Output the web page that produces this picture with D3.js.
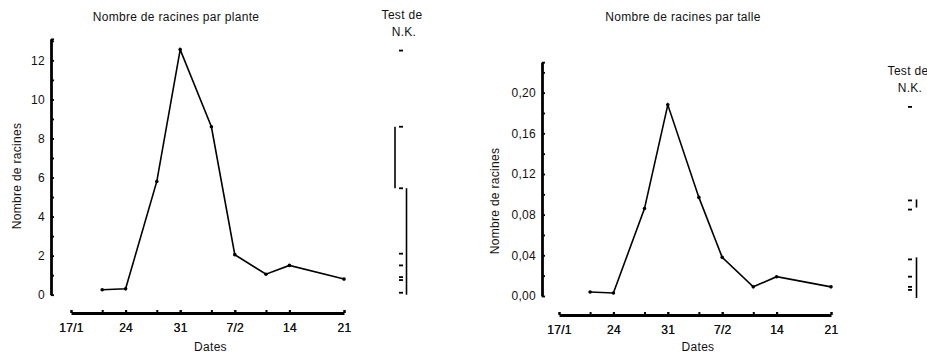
<!DOCTYPE html>
<html>
<head>
<meta charset="utf-8">
<script src="https://cdn.jsdelivr.net/npm/d3@7"></script>
<style>
body{margin:0;background:#fff;}
svg{display:block;}
text{font-family:"Liberation Sans",Arial,sans-serif;fill:#111;font-size:12px;letter-spacing:0.3px;}
</style>
</head>
<body>
<div id="plot"></div>
<script>
// sampling dates (day/month)
var dates = ['21/1','24/1','28/1','31/1','4/2','7/2','11/2','14/2','21/2'];
var parPlante = [0.25,0.3,5.8,12.55,8.6,2.05,1.05,1.5,0.8];
var parTalle = [0.004,0.003,0.086,0.188,0.097,0.038,0.009,0.019,0.009];

var tickDates = ['17/1','24/1','31/1','7/2','14/2','21/2'];
var tickLabels = ['17/1','24','31','7/2','14','21'];

// Test de N.K. marks
var nkPlante = [12.5,8.6,5.45,2.1,1.5,0.9,0.75,0.1];
var nkPlanteGroups = [[8.6,5.45],[5.45,0]];
var nkTalle = [0.186,0.094,0.085,0.036,0.019,0.009,0.006];
var nkTalleGroups = [[0.095,0.087],[0.038,-0.002]];

var yTicksPlante = [0,1,2,3,4,5,6,7,8,9,10,11,12,13];
var yLabelsPlante = [0,2,4,6,8,10,12];
var yTicksTalle = [0,0.02,0.04,0.06,0.08,0.10,0.12,0.14,0.16,0.18,0.20,0.22];
var yLabelsTalle = [0,0.04,0.08,0.12,0.16,0.20];

var W = 927, H = 356;
var parseD = function(s){ var p = s.split('/'); return new Date(1980, +p[1]-1, +p[0]); };
var fr = d3.formatLocale({decimal:',',thousands:' ',grouping:[3],currency:['','']});

var svg = d3.select('#plot').append('svg')
    .attr('width',W)
    .attr('height',H);

function drawPanel(cfg){
    var g = svg.append('g');

    var x = d3.scaleTime()
        .domain([parseD('17/1'),parseD('21/2')])
        .range([cfg.x0,cfg.x1]);
    var y = d3.scaleLinear()
        .domain([0,cfg.yMax])
        .range([cfg.y0,cfg.y0 - cfg.yMax*cfg.pxPerUnit]);

    //y axis
    var yAx = d3.axisLeft(y)
        .tickValues(cfg.yTicks.concat([cfg.yMax]))
        .tickSizeInner(-3)
        .tickSizeOuter(0)
        .tickPadding(6)
        .tickFormat(function(d){
            return cfg.yLabels.some(function(v){return Math.abs(v-d)<1e-9}) ? cfg.fmt(d) : '';
        });
    var ya = g.append('g')
        .attr('transform','translate('+cfg.yAxisX+',0)')
        .call(yAx);
    ya.select('.domain').style('stroke','#000').style('stroke-width',2.8);
    ya.selectAll('.tick line').style('stroke','#000').style('stroke-width',1.8);
    ya.selectAll('.tick text').style('font-size','12px').attr('fill','#111');

    //x axis
    var ticks = [parseD('17/1')].concat(dates.map(parseD));
    var xAx = d3.axisBottom(x)
        .tickValues(ticks.concat(tickDates.map(parseD)))
        .tickSizeInner(-3)
        .tickSizeOuter(0)
        .tickPadding(10)
        .tickFormat(function(d){
            var i = tickDates.map(function(s){return +parseD(s)}).indexOf(+d);
            return i<0 ? '' : tickLabels[i];
        });
    var xa = g.append('g')
        .attr('transform','translate(0,'+cfg.xAxisY+')')
        .call(xAx);
    xa.select('.domain').style('stroke','#000').style('stroke-width',2.8);
    xa.selectAll('.tick line').style('stroke','#000').style('stroke-width',2);
    xa.selectAll('.tick text').style('font-size','12px').attr('fill','#111');

    //series
    var pts = dates.map(function(d,i){return {date:parseD(d),v:cfg.values[i]}});
    var line = d3.line()
        .x(function(d){return x(d.date)})
        .y(function(d){return y(d.v)});
    g.append('path')
        .datum(pts)
        .attr('d',line)
        .style('fill','none')
        .style('stroke','#000')
        .style('stroke-width',1.6);
    g.selectAll('.pt')
        .data(pts)
        .enter()
        .append('circle')
        .attr('class','pt')
        .attr('cx',function(d){return x(d.date)})
        .attr('cy',function(d){return y(d.v)})
        .attr('r',1.8)
        .style('fill','#000');

    //titles
    g.append('text')
        .attr('x',cfg.titleX).attr('y',21)
        .attr('text-anchor','middle')
        .text(cfg.title);
    g.append('text')
        .attr('x',(cfg.x0+cfg.x1)/2 + 3).attr('y',351)
        .attr('text-anchor','middle')
        .text('Dates');
    g.append('text')
        .attr('transform','translate('+cfg.yTitleX+','+cfg.yTitleY+') rotate(-90)')
        .attr('text-anchor','middle')
        .attr('dy','0.35em')
        .text('Nombre de racines');

    //Test de N.K.
    g.append('text')
        .attr('x',cfg.nkTextX).attr('y',cfg.nkTextY)
        .attr('text-anchor','middle')
        .text('Test de');
    g.append('text')
        .attr('x',cfg.nkTextX+2).attr('y',cfg.nkTextY+17)
        .attr('text-anchor','middle')
        .text('N.K.');
    g.selectAll('.nk')
        .data(cfg.nk)
        .enter()
        .append('line')
        .attr('class','nk')
        .attr('x1',cfg.nkX-2).attr('x2',cfg.nkX+2)
        .attr('y1',function(d){return y(d)})
        .attr('y2',function(d){return y(d)})
        .style('stroke','#000')
        .style('stroke-width',1.8);
    g.selectAll('.nkbar')
        .data(cfg.nkGroups)
        .enter()
        .append('line')
        .attr('class','nkbar')
        .attr('x1',function(d,i){return cfg.nkBarX[i]})
        .attr('x2',function(d,i){return cfg.nkBarX[i]})
        .attr('y1',function(d){return y(d[0])})
        .attr('y2',function(d){return y(d[1])})
        .style('stroke','#000')
        .style('stroke-width',1.6);
}

drawPanel({
    x0:71, x1:344, xAxisY:313,
    y0:294.7, pxPerUnit:19.53, yMax:13.1, yAxisX:51,
    yTicks:yTicksPlante, yLabels:yLabelsPlante,
    fmt:function(d){return String(d)},
    values:parPlante,
    title:'Nombre de racines par plante', titleX:176,
    yTitleX:17, yTitleY:176,
    nk:nkPlante, nkGroups:nkPlanteGroups, nkX:401, nkBarX:[395,406.5],
    nkTextX:402, nkTextY:19
});

drawPanel({
    x0:559, x1:831, xAxisY:315,
    y0:296, pxPerUnit:1016.7, yMax:0.23, yAxisX:542,
    yTicks:yTicksTalle, yLabels:yLabelsTalle,
    fmt:fr.format('.2f'),
    values:parTalle,
    title:'Nombre de racines par talle', titleX:683,
    yTitleX:495, yTitleY:201,
    nk:nkTalle, nkGroups:nkTalleGroups, nkX:910, nkBarX:[916.5,916.5],
    nkTextX:908, nkTextY:75
});
</script>
</body>
</html>
